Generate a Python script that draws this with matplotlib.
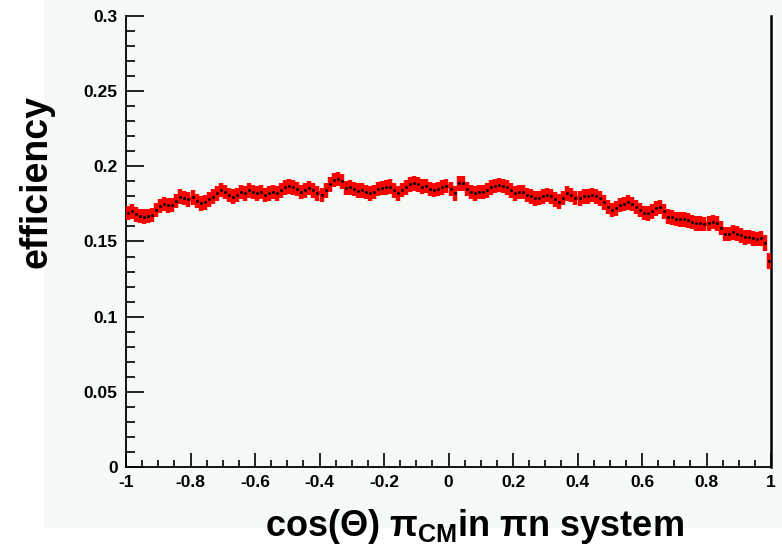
import numpy as np
import matplotlib
matplotlib.use("Agg")
import matplotlib.pyplot as plt
from matplotlib.ticker import MultipleLocator, FuncFormatter
from matplotlib.patches import Rectangle

# Binning of the cos(theta) histogram
x_min, x_max, n_bins = -1.0, 1.0, 160

# Efficiency per bin
efficiency = [
    0.169, 0.170, 0.168, 0.167, 0.1665, 0.167, 0.1676, 0.171, 0.1736, 0.175,
    0.174, 0.1743, 0.177, 0.1798, 0.179, 0.178, 0.1794, 0.177, 0.1754, 0.176,
    0.178, 0.1798, 0.182, 0.1843, 0.183, 0.181, 0.1798, 0.181, 0.183, 0.182,
    0.184, 0.183, 0.182, 0.183, 0.181, 0.182, 0.183, 0.182, 0.184, 0.186,
    0.1867, 0.186, 0.185, 0.183, 0.184, 0.1855, 0.184, 0.182, 0.181, 0.184,
    0.188, 0.191, 0.1915, 0.190, 0.1854, 0.186, 0.185, 0.1838, 0.184, 0.183,
    0.182, 0.183, 0.185, 0.1854, 0.186, 0.1865, 0.184, 0.182, 0.1843, 0.186,
    0.188, 0.1887, 0.188, 0.1865, 0.187, 0.185, 0.1843, 0.185, 0.186, 0.1869,
    0.185, 0.182, 0.1887, 0.1887, 0.185, 0.183, 0.182, 0.183, 0.183, 0.184,
    0.186, 0.187, 0.1876, 0.1869, 0.186, 0.184, 0.182, 0.183, 0.183, 0.181,
    0.180, 0.1787, 0.179, 0.180, 0.181, 0.180, 0.178, 0.1765, 0.179, 0.182,
    0.181, 0.179, 0.1787, 0.180, 0.180, 0.181, 0.180, 0.1787, 0.176, 0.173,
    0.171, 0.172, 0.1743, 0.175, 0.176, 0.175, 0.173, 0.171, 0.169, 0.1687,
    0.170, 0.172, 0.1731, 0.170, 0.1665, 0.166, 0.165, 0.1647, 0.1647, 0.164,
    0.163, 0.162, 0.162, 0.1617, 0.162, 0.163, 0.162, 0.159, 0.155, 0.155,
    0.156, 0.1552, 0.154, 0.1528, 0.153, 0.152, 0.1515, 0.152, 0.149, 0.137,
]
# Statistical uncertainty per bin
eff_error = [0.0048] * 158 + [0.005, 0.0055]

edges = np.linspace(x_min, x_max, n_bins + 1)
centers = 0.5 * (edges[:-1] + edges[1:])
half_w = 0.5 * (edges[1] - edges[0])

pad_color = "#f6faf7"
plt.rcParams["font.family"] = ["Liberation Sans", "DejaVu Sans"]
plt.rcParams["font.weight"] = "bold"
plt.rcParams["mathtext.fontset"] = "custom"
plt.rcParams["mathtext.rm"] = "Liberation Sans:bold"
plt.rcParams["mathtext.it"] = "Liberation Sans:bold"
plt.rcParams["mathtext.bf"] = "Liberation Sans:bold"

fig = plt.figure(figsize=(7.82, 5.55), dpi=100, facecolor="white")
# canvas pad
fig.patches.append(Rectangle((44 / 782, 1 - 528 / 555), 1 - 44 / 782, 528 / 555,
                             transform=fig.transFigure, facecolor=pad_color,
                             edgecolor="none", zorder=-10))

ax = fig.add_axes([126 / 782, 88 / 555, 645 / 782, 451 / 555])
ax.set_facecolor(pad_color)

ax.errorbar(centers, efficiency, xerr=half_w, yerr=eff_error, fmt="none",
            ecolor="#ff0000", elinewidth=3.2, capsize=0, zorder=3)
ax.plot(centers, efficiency, linestyle="none", marker="s", markersize=1.0,
        color="black", zorder=4)

ax.set_xlim(x_min, x_max)
ax.set_ylim(0, 0.3)

for s in ["left", "bottom"]:
    ax.spines[s].set_linewidth(1.3)
ax.spines["top"].set_visible(False)
ax.spines["right"].set_linewidth(1.8)

ax.xaxis.set_major_locator(MultipleLocator(0.2))
ax.xaxis.set_minor_locator(MultipleLocator(0.05))
ax.yaxis.set_major_locator(MultipleLocator(0.05))
ax.yaxis.set_minor_locator(MultipleLocator(0.01))

def fmt(v, pos):
    s = f"{v:.2f}".rstrip("0").rstrip(".")
    if s == "-0":
        s = "0"
    return s

ax.xaxis.set_major_formatter(FuncFormatter(fmt))
ax.yaxis.set_major_formatter(FuncFormatter(fmt))

ax.tick_params(axis="both", which="both", direction="in", top=False, right=False,
               width=1.2, colors="black")
ax.tick_params(axis="y", which="major", length=13, pad=6, labelsize=12.5)
ax.tick_params(axis="y", which="minor", length=6.5)
ax.tick_params(axis="x", which="major", length=10, pad=6, labelsize=12.5)
ax.tick_params(axis="x", which="minor", length=5)

fig.text(36 / 782, 1 - 181 / 555, "efficiency", fontsize=27, fontweight="bold",
         rotation=90, ha="center", va="center")
fig.text(474 / 782, 1 - 527 / 555, r"cos(Θ) π$_{\mathrm{CM}}$in πn system",
         fontsize=26, fontweight="bold", ha="center", va="center")

fig.savefig("out.png", dpi=100, facecolor="white")
